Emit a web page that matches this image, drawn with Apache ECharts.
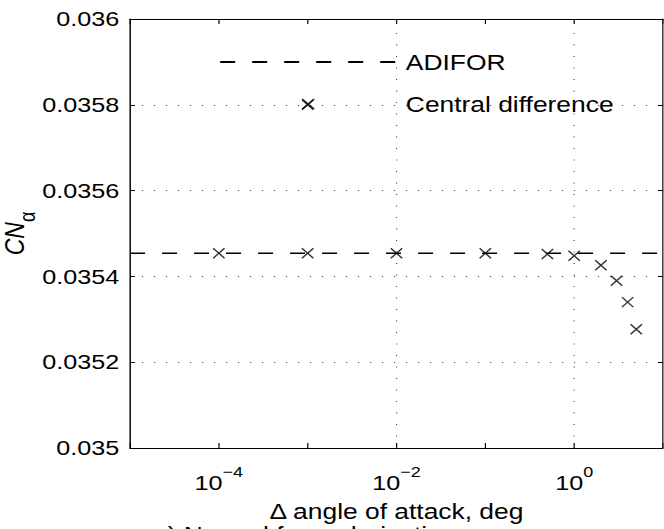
<!DOCTYPE html>
<html>
<head>
<meta charset="utf-8">
<script src="https://cdn.jsdelivr.net/npm/echarts@6/dist/echarts.min.js"></script>
<style>
  html, body { margin: 0; padding: 0; background: #fff; overflow: hidden; }
  /* The figure is drawn narrow and widened horizontally, like the exported plot */
  #chart { width: 553.333px; height: 529px; transform: scaleX(1.2); transform-origin: 0 0; }
</style>
</head>
<body>
<div id="chart"></div>
<script>
// Step sizes (deg) used for the central-difference estimates
const stepSizes = [1e-4, 1e-3, 1e-3, 1e-2, 1e-1, 0.5, 1, 2, 3, 4, 5];
// CN_alpha from central differences at each step size
const centralDiff = [0.035454, 0.035454, 0.0358, 0.035454, 0.035454, 0.035452, 0.035448, 0.035426, 0.03539, 0.03534, 0.035277];
// CN_alpha from automatic differentiation (ADIFOR), independent of step size
const adiforValue = 0.035454;

const xRange = [1e-5, 10];
const yRange = [0.035, 0.036];
const yStep = 0.0002;
const labelledDecades = [1e-4, 1e-2, 1];
const seriesNames = ['ADIFOR', 'Central difference'];
const xLabelText = 'Δ angle of attack, deg';
const captionText = 'a) Normal force derivative';

const FONT = '"Liberation Sans", Arial, Helvetica, sans-serif';
const BLACK = '#000';
const DOT = '#4d4d4d';

// Powers of ten, labelled every second decade; the exponent is raised by bottom padding
function decadeLabel(v) {
  const e = Math.round(Math.log10(v));
  const shown = labelledDecades.some(d => Math.round(Math.log10(d)) === e);
  if (!shown) return '';
  return '{b|10}{e|' + (e < 0 ? '\u2212' + (-e) : String(e)) + '}';
}

const frameAxis = {
  axisLine: { show: true, onZero: false, lineStyle: { color: BLACK, width: 1.2 } },
  axisTick: { show: true, inside: true, length: 5, lineStyle: { color: BLACK, width: 1 } },
  minorTick: { show: false },
  splitLine: { show: false }
};

const chart = echarts.init(document.getElementById('chart'), null, { renderer: 'svg', width: 553.333, height: 529 });

chart.setOption({
  animation: false,
  backgroundColor: '#fff',
  textStyle: { fontFamily: FONT, color: BLACK },
  grid: { left: 108.33, top: 19, width: 444.17, height: 429, containLabel: false, outerBoundsMode: 'none' },
  legend: {
    orient: 'vertical', left: 182.5, top: 51, padding: 0,
    itemWidth: 146.7, itemHeight: 10, itemGap: 20,
    selectedMode: false,
    data: [
      { name: seriesNames[0], itemStyle: { opacity: 0 } },
      { name: seriesNames[1] }
    ],
    itemStyle: { borderWidth: 1.3, borderColor: BLACK },
    textStyle: { fontFamily: FONT, fontSize: 22, color: BLACK, padding: [0, 0, 0, 3] }
  },
  xAxis: [
    Object.assign({}, frameAxis, {
      type: 'log', logBase: 10, min: xRange[0], max: xRange[1], position: 'bottom',
      axisLabel: {
        margin: 24, color: BLACK, formatter: decadeLabel,
        rich: {
          b: { fontFamily: FONT, fontSize: 21, lineHeight: 21, color: BLACK },
          e: { fontFamily: FONT, fontSize: 15, lineHeight: 15, padding: [0, 0, 20, 0], color: BLACK }
        }
      },
      name: xLabelText, nameLocation: 'middle', nameGap: 52, nameMoveOverlap: false,
      nameTextStyle: { fontFamily: FONT, fontSize: 22, color: BLACK }
    }),
    Object.assign({}, frameAxis, {
      type: 'log', logBase: 10, min: xRange[0], max: xRange[1], position: 'top',
      axisLabel: { show: false }
    })
  ],
  yAxis: [
    Object.assign({}, frameAxis, {
      type: 'value', min: yRange[0], max: yRange[1], interval: yStep, position: 'left',
      axisTick: { show: true, inside: true, length: 4.2, lineStyle: { color: BLACK, width: 1 } },
      splitLine: { show: true, lineStyle: { color: DOT, width: 1, type: [1, 9] } },
      axisLabel: { margin: 9, fontSize: 21, color: BLACK, fontFamily: FONT, formatter: v => String(+v.toFixed(4)) },
      name: '{i|CN}{s|α}', nameLocation: 'middle', nameRotate: 90, nameGap: 85, nameMoveOverlap: false,
      nameTextStyle: {
        color: BLACK,
        rich: {
          i: { fontFamily: FONT, fontSize: 23, fontStyle: 'italic', lineHeight: 23, color: BLACK },
          s: { fontFamily: FONT, fontSize: 18, lineHeight: 18, padding: [22, 0, 0, 0], color: BLACK }
        }
      }
    }),
    Object.assign({}, frameAxis, {
      type: 'value', min: yRange[0], max: yRange[1], interval: yStep, position: 'right',
      axisTick: { show: true, inside: true, length: 4.2, lineStyle: { color: BLACK, width: 1 } },
      axisLabel: { show: false }
    })
  ],
  series: [
    {
      name: seriesNames[0], type: 'line', symbol: 'none', silent: true, z: 3,
      data: [[xRange[0], adiforValue], [xRange[1], adiforValue]],
      lineStyle: { color: BLACK, width: 1.3, type: [12.5, 14.17] },
      markLine: {
        silent: true, symbol: 'none', label: { show: false },
        lineStyle: { color: DOT, width: 1, type: [1, 10.5] },
        data: labelledDecades.map(v => ({ xAxis: v }))
      }
    },
    {
      name: seriesNames[1], type: 'scatter', silent: true, z: 4,
      symbol: 'path://M0,0L10,10M10,0L0,10', symbolSize: [9.5, 10],
      itemStyle: { color: 'transparent', borderColor: BLACK, borderWidth: 1.3 },
      data: stepSizes.map((x, i) => [x, centralDiff[i]])
    }
  ],
  graphic: [{
    type: 'text', left: 127.5, top: 523.5, silent: true,
    style: { text: captionText, font: '22px ' + FONT, fill: BLACK }
  }]
});
</script>
</body>
</html>
